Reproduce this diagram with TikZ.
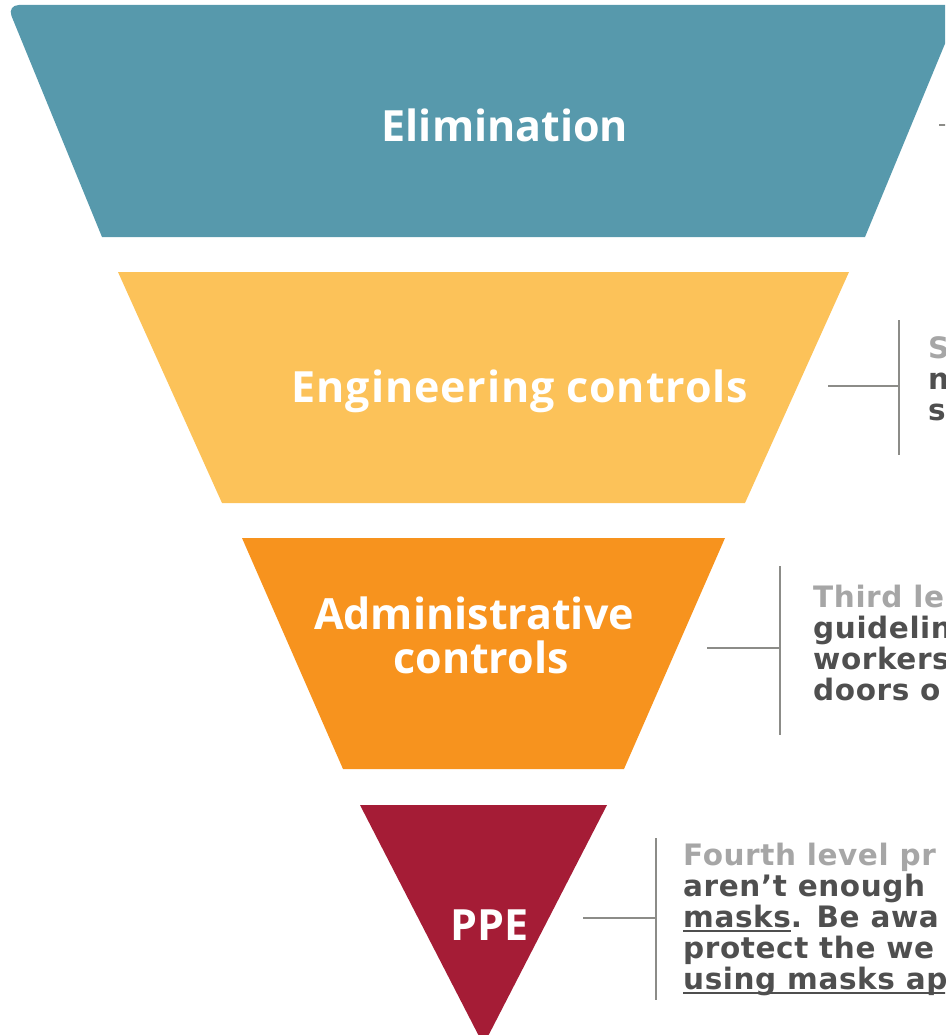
\documentclass[tikz,border=0pt]{standalone}
\usepackage{fontspec}
\newfontfamily\tierfont{Open Sans}
\newfontfamily\tierwidefont{Open Sans}[LetterSpace=2]
\newfontfamily\notefont{DejaVu Sans}[LetterSpace=2]

\definecolor{tierteal}{HTML}{5799AC}
\definecolor{tieryellow}{HTML}{FCC259}
\definecolor{tierorange}{HTML}{F7931E}
\definecolor{tierred}{HTML}{A51C36}
\definecolor{bracketgray}{HTML}{8C8C88}
\definecolor{notelight}{HTML}{A6A6A6}
\definecolor{notedark}{HTML}{4F4F4F}

% underline drawn just below the baseline, whatever the descenders
\newcommand\noteul[1]{\setbox0\hbox{#1}\rlap{\rule[-4.5pt]{\wd0}{1.8pt}}\box0}

\tikzset{
  tierlabel/.style={text=white, inner sep=0pt, anchor=base,
    font=\tierfont\bfseries\fontsize{43}{44}\selectfont},
  tierwide/.style={tierlabel, font=\tierwidefont\bfseries\fontsize{43}{44}\selectfont},
  noteline/.style={inner sep=0pt, anchor=base west, text=notedark,
    font=\notefont\bfseries\fontsize{29.5}{31}\selectfont},
  notehead/.style={noteline, text=notelight},
  bracket/.style={draw=bracketgray, line width=2pt}
}

\begin{document}
\begin{tikzpicture}[x=1pt, y=-1pt]
\useasboundingbox (0,0) rectangle (945,1035);
\clip (0,0) rectangle (945,1035);

% the four tiers of the inverted pyramid
\fill[tierteal] (102,237) [rounded corners=12] -- (7,5) [sharp corners] -- (961,5) -- (865,237) -- cycle;
\fill[tieryellow] (118,272) -- (849,272) -- (745,503) -- (222,503) -- cycle;
\fill[tierorange] (242,538) -- (725,538) -- (624,769) -- (343,769) -- cycle;
\fill[tierred] (360,805) -- (607,805) [rounded corners=12] -- (483.5,1045) [sharp corners] -- cycle;

% tier names
\node[tierlabel] (elim) at (505,142) {Elimination};
\node[tierwide] (eng) at (520,402) {Engineering controls};
\node[tierlabel] (adm1) at (474,629) {Administrative};
\node[tierlabel] (adm2) at (481,673) {controls};
\node[tierlabel] (ppe) at (489.5,940) {PPE};

% bracket connectors
\coordinate (elimA) at (939,125);
\coordinate (elimB) at (952,125);
\draw[bracket] (elimA) -- (elimB);

\coordinate (engA) at (828,386);
\coordinate (engB) at (899,386);
\coordinate (engT) at (899,320);
\coordinate (engD) at (899,455);
\draw[bracket] (engA) -- (engB);
\draw[bracket] (engT) -- (engD);

\coordinate (admA) at (707,648);
\coordinate (admB) at (780,648);
\coordinate (admT) at (780,566);
\coordinate (admD) at (780,735);
\draw[bracket] (admA) -- (admB);
\draw[bracket] (admT) -- (admD);

\coordinate (ppeA) at (583,918);
\coordinate (ppeB) at (656,918);
\coordinate (ppeT) at (656,838);
\coordinate (ppeD) at (656,1000);
\draw[bracket] (ppeA) -- (ppeB);
\draw[bracket] (ppeT) -- (ppeD);

% notes beside the tiers
\node[notehead] (engN1) at (928,358) {S};
\node[noteline] (engN2) at (928,389) {n};
\node[noteline] (engN3) at (928,420) {s};

\node[notehead] (admN1) at (813,607) {Third le};
\node[noteline] (admN2) at (813,638) {guidelin};
\node[noteline] (admN3) at (813,669) {workers};
\node[noteline] (admN4) at (813,700) {doors o};

\node[notehead] (ppeN1) at (683,865) {Fourth level pr};
\node[noteline] (ppeN2) at (683,896) {aren’t enough};
\node[noteline] (ppeN3) at (683,927) {\noteul{masks}. Be awa};
\node[noteline] (ppeN4) at (683,958) {protect the we};
\node[noteline] (ppeN5) at (683,989) {\noteul{using masks ap}};
\end{tikzpicture}
\end{document}
